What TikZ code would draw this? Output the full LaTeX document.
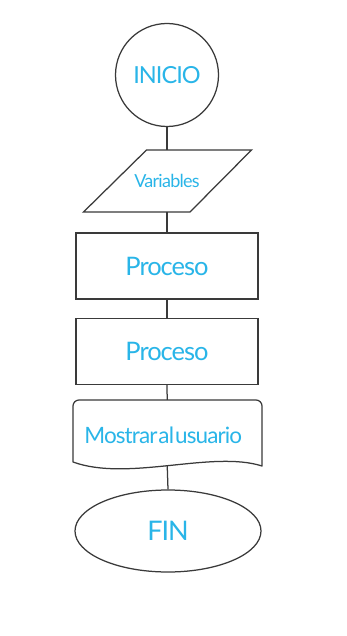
\documentclass[tikz,border=0pt]{standalone}
\usepackage{fontspec}
\setmainfont{Lato}[LetterSpace=-4.0]
\usetikzlibrary{shapes.geometric}
\definecolor{textblue}{HTML}{29B5E8}
\definecolor{linegray}{HTML}{3A3A3A}
\begin{document}
\begin{tikzpicture}[x=1pt,y=-1pt,
  shapeline/.style={draw=linegray,line width=1.25pt},
  label/.style={text=textblue,inner sep=0pt},
  procbox/.style={shapeline,rectangle,minimum width=182pt,minimum height=66pt,inner sep=0pt,text=textblue,font=\fontsize{25.5}{28}\selectfont},
  link/.style={draw=linegray,line width=1.25pt}]
\useasboundingbox (0,0) rectangle (347,636);
\fill[white] (0,0) rectangle (347,636);

% start terminal
\node[shapeline,circle,minimum size=103pt,inner sep=0pt,text=textblue,
      font=\fontsize{23.5}{26}\selectfont] (ini) at (167,75) {INICIO};

% data input (parallelogram)
\node[minimum width=105pt,minimum height=62pt,inner sep=0pt,text=textblue,
      font=\fontsize{18}{20}\selectfont] (var) at (167,181) {Variables};
\draw[shapeline,line join=miter]
  (146.5,150) -- (251.5,150) -- (190,212) -- (83.5,212) -- cycle;

% process steps
\node[procbox] (p1) at (167,266) {Proceso};
\node[procbox] (p2) at (167,351.5) {Proceso};

% output document
\node[minimum width=189pt,minimum height=66pt,inner sep=0pt] (mos) at (167.2,433) {};
\draw[shapeline,line join=round]
  (73,462) -- (73,406) arc[start angle=180,end angle=270,radius=6] -- (256,400)
  arc[start angle=270,end angle=360,radius=6] -- (262,466)
  .. controls (212,450) and (128,482) .. (73,462) -- cycle;
\node[label,font=\fontsize{22.5}{24}\selectfont,xshift=-4pt,yshift=-2pt] (mostxt) at (mos)
  {Mostrar\hspace{1pt}al\hspace{1pt}usuario};

% end terminal
\node[shapeline,ellipse,minimum width=186pt,minimum height=82pt,inner sep=0pt,
      text=textblue,font=\fontsize{27}{30}\selectfont] (fin) at (168,531) {FIN};

% connectors
\draw[link] (ini.south) -- (var.north);
\draw[link] (var.south) -- (p1.north);
\draw[link] (p1.south) -- (p2.north);
\draw[link] (p2.south) -- (mos.north);
\draw[link] ([yshift=1pt]mos.south) -- (fin.north);
\end{tikzpicture}
\end{document}
